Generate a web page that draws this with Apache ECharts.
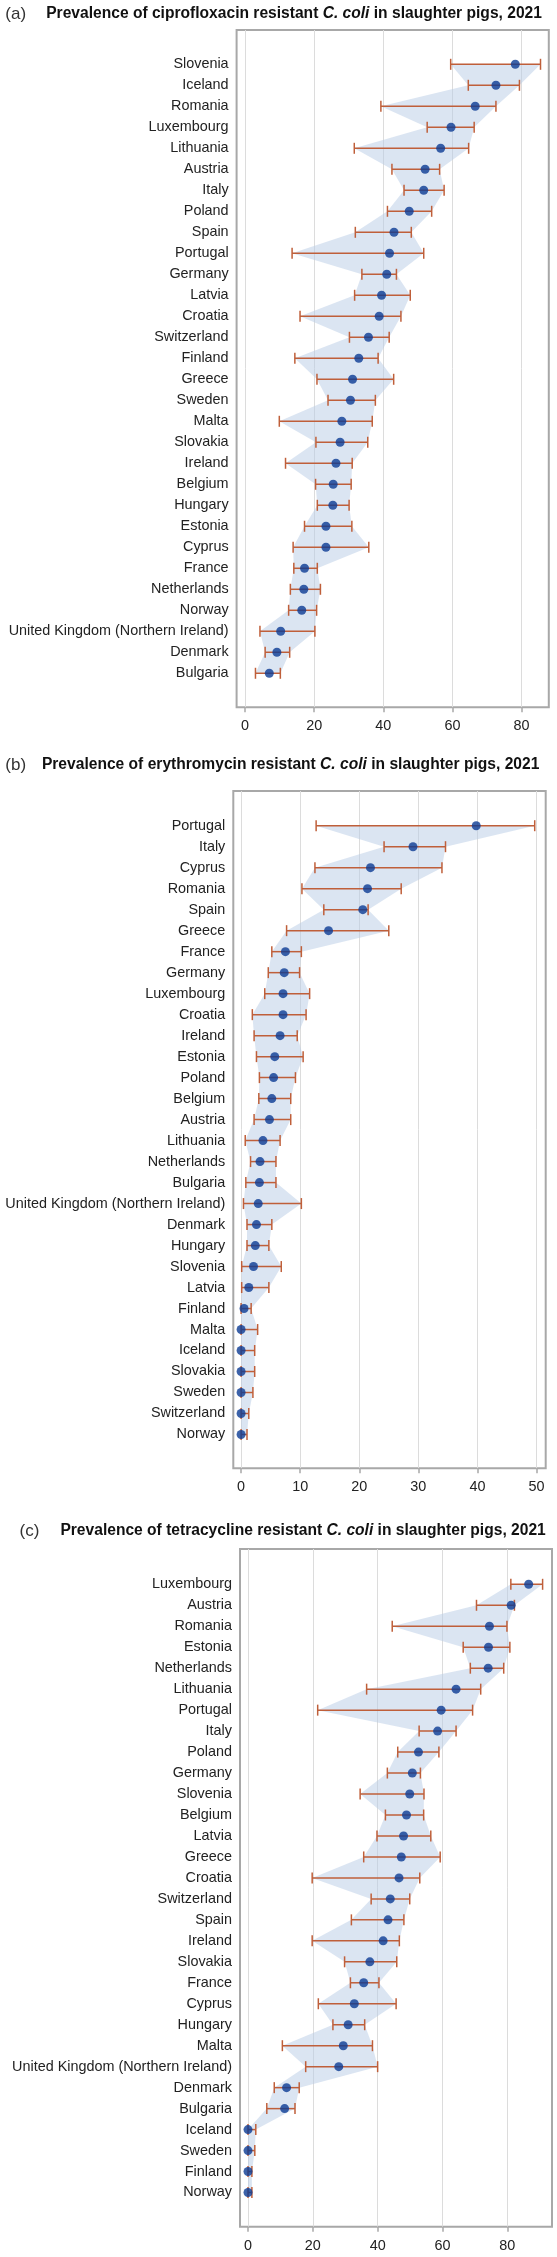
<!DOCTYPE html>
<html><head><meta charset="utf-8">
<script src="https://cdn.jsdelivr.net/npm/echarts@6/dist/echarts.min.js"></script>
<style>html,body{margin:0;padding:0;background:#fff}#c{width:557px;height:2257px}</style>
</head><body><div id="c"></div>
<script>
// ---------- DATA ----------
const countriesA = ['Slovenia','Iceland','Romania','Luxembourg','Lithuania','Austria','Italy','Poland','Spain','Portugal','Germany','Latvia','Croatia','Switzerland','Finland','Greece','Sweden','Malta','Slovakia','Ireland','Belgium','Hungary','Estonia','Cyprus','France','Netherlands','Norway','United Kingdom (Northern Ireland)','Denmark','Bulgaria'];
const valA = [78.2,72.6,66.6,59.6,56.6,52.1,51.7,47.5,43.1,41.8,41.0,39.5,38.8,35.7,32.9,31.1,30.5,28.0,27.5,26.3,25.5,25.4,23.4,23.4,17.2,17.0,16.4,10.3,9.2,7.0];
const loA  = [59.5,64.6,39.3,52.7,31.6,42.5,46.0,41.2,31.9,13.6,33.8,31.7,15.9,30.2,14.4,20.8,24.0,9.9,20.5,11.7,20.4,20.9,17.2,13.9,14.1,13.1,12.6,4.3,5.8,3.0];
const hiA  = [85.5,79.4,72.6,66.3,64.7,56.3,57.6,54.0,48.1,51.7,43.8,47.8,45.1,41.7,38.5,43.0,37.7,36.8,35.5,31.0,30.7,30.1,30.9,35.8,20.9,21.8,20.7,20.2,12.9,10.2];
const ticksA = [0,20,40,60,80];

const countriesB = ['Portugal','Italy','Cyprus','Romania','Spain','Greece','France','Germany','Luxembourg','Croatia','Ireland','Estonia','Poland','Belgium','Austria','Lithuania','Netherlands','Bulgaria','United Kingdom (Northern Ireland)','Denmark','Hungary','Slovenia','Latvia','Finland','Malta','Iceland','Slovakia','Sweden','Switzerland','Norway'];
const valB = [39.8,29.1,21.9,21.4,20.6,14.8,7.5,7.3,7.1,7.1,6.6,5.7,5.5,5.2,4.8,3.7,3.2,3.1,2.9,2.6,2.4,2.1,1.3,0.5,0,0,0,0,0,0];
const loB  = [12.7,24.2,12.5,10.3,14.0,7.7,5.2,4.6,4.0,1.9,2.2,2.6,3.1,3.0,2.2,0.7,1.6,0.8,0.4,1.0,1.0,0.1,0.1,0,0,0,0,0,0,0];
const hiB  = [49.7,34.6,34.0,27.1,21.5,25.0,10.2,9.9,11.6,11.0,9.5,10.5,9.2,8.4,8.4,6.6,5.9,5.9,10.2,5.2,4.7,6.8,4.7,1.7,2.8,2.3,2.3,2.0,1.3,1.0];
const ticksB = [0,10,20,30,40,50];

const countriesC = ['Luxembourg','Austria','Romania','Estonia','Netherlands','Lithuania','Portugal','Italy','Poland','Germany','Slovenia','Belgium','Latvia','Greece','Croatia','Switzerland','Spain','Ireland','Slovakia','France','Cyprus','Hungary','Malta','United Kingdom (Northern Ireland)','Denmark','Bulgaria','Iceland','Sweden','Finland','Norway'];
const valC = [86.6,81.2,74.5,74.2,74.1,64.2,59.6,58.5,52.6,50.7,49.9,48.9,48.0,47.3,46.6,43.9,43.2,41.7,37.6,35.7,32.8,30.9,29.4,28.0,11.9,11.3,0,0,0,0];
const loC  = [81.1,70.5,44.5,66.4,68.6,36.6,21.5,52.8,46.2,43.0,34.6,42.4,39.8,35.7,19.8,38.0,31.9,19.8,29.8,31.6,21.7,26.2,10.6,17.8,8.1,5.8,0,0,0,0];
const hiC  = [90.9,82.2,79.9,80.8,78.9,71.8,69.3,64.2,58.9,53.2,54.3,54.2,56.4,59.3,53.0,49.9,48.1,46.7,45.9,40.4,45.7,36.0,38.4,40.0,15.8,14.5,2.4,2.1,1.2,1.2];
const ticksC = [0,20,40,60,80];

const tags = ['(a)','(b)','(c)'];
const antibiotics = ['ciprofloxacin','erythromycin','tetracycline'];

// ---------- LAYOUT / STYLE ----------
const FONT = '"Liberation Sans", Arial, sans-serif';
const DOT = '#0b3b93', BAR = '#bf5f3a', BAND = 'rgba(184,204,230,0.5)';
const panels = [
  {c:countriesA, v:valA, lo:loA, hi:hiA, ticks:ticksA,
   grid:{left:236.6, top:30, width:312.2, height:677.3}, x:[-2.46,87.9], y:[-1.633,30.62],
   tag:{left:5.3, top:4}, title:{left:46.2, top:3.3}},
  {c:countriesB, v:valB, lo:loB, hi:hiB, ticks:ticksB,
   grid:{left:233.3, top:791, width:312.4, height:677.3}, x:[-1.32,51.56], y:[-1.653,30.61],
   tag:{left:5.3, top:755.5}, title:{left:41.9, top:755}},
  {c:countriesC, v:valC, lo:loC, hi:hiC, ticks:ticksC,
   grid:{left:240, top:1549, width:312, height:677.7}, x:[-2.47,93.8], y:[-1.683,30.63],
   tag:{left:19.5, top:1521}, title:{left:60.4, top:1520.7}}
];

const option = {backgroundColor:'#fff', animation:false, title:[], grid:[], xAxis:[], yAxis:[], series:[]};

panels.forEach((p, k) => {
  option.title.push({text: tags[k], left:p.tag.left, top:p.tag.top, padding:0,
    textStyle:{fontFamily:FONT, fontSize:17, fontWeight:'normal', color:'#333', lineHeight:20}});
  option.title.push({
    text: '{b|Prevalence of ' + antibiotics[k] + ' resistant }{i|C. coli}{b| in slaughter pigs, 2021}',
    left:p.title.left, top:p.title.top, padding:0,
    textStyle:{rich:{
      b:{fontFamily:FONT, fontSize:15.6, fontWeight:'bold', color:'#111', lineHeight:20},
      i:{fontFamily:FONT, fontSize:15.6, fontWeight:'bold', fontStyle:'italic', color:'#111', lineHeight:20}
    }}});
  option.grid.push(Object.assign({show:true, borderColor:'#a8a8a8', borderWidth:2, backgroundColor:'transparent', containLabel:false}, p.grid));
  option.xAxis.push({type:'value', gridIndex:k, min:p.x[0], max:p.x[1], position:'bottom',
    axisLine:{show:false, onZero:false},
    axisTick:{show:true, length:5, lineStyle:{color:'#a8a8a8', width:1.5}, customValues:p.ticks},
    axisLabel:{fontFamily:FONT, fontSize:14.4, color:'#222', margin:12, customValues:p.ticks},
    splitLine:{show:true, lineStyle:{color:'#dcdcdc', width:1}}});
  const idx = p.c.map((_, i) => i);
  option.yAxis.push({type:'value', gridIndex:k, inverse:true, min:p.y[0], max:p.y[1],
    axisLine:{show:false, onZero:false}, axisTick:{show:false}, splitLine:{show:false},
    axisLabel:{fontFamily:FONT, fontSize:14.4, color:'#222', margin:8, customValues:idx,
      formatter:(val) => p.c[Math.round(val)] || ''}});
  // band polygon (lower CI down, upper CI back up)
  option.series.push({type:'custom', xAxisIndex:k, yAxisIndex:k, z:1, silent:true,
    data: p.lo.map((l, i) => [l, p.hi[i], i]),
    encode:{x:[0,1], y:2},
    renderItem:(params, api) => {
      if (params.dataIndex !== 0) return null;
      const pts = [];
      for (let i = 0; i < p.lo.length; i++) pts.push(api.coord([p.lo[i], i]));
      for (let i = p.hi.length - 1; i >= 0; i--) pts.push(api.coord([p.hi[i], i]));
      return {type:'polygon', shape:{points:pts}, style:{fill:BAND, stroke:null}};
    }});
  // error bars
  option.series.push({type:'custom', xAxisIndex:k, yAxisIndex:k, z:2, silent:true,
    data: p.lo.map((l, i) => [l, p.hi[i], i]),
    encode:{x:[0,1], y:2},
    renderItem:(params, api) => {
      const a = api.coord([api.value(0), api.value(2)]);
      const b = api.coord([api.value(1), api.value(2)]);
      const h = 5.5, st = {stroke:BAR, lineWidth:1.5};
      return {type:'group', children:[
        {type:'line', shape:{x1:a[0], y1:a[1], x2:b[0], y2:b[1]}, style:st},
        {type:'line', shape:{x1:a[0], y1:a[1]-h, x2:a[0], y2:a[1]+h}, style:st},
        {type:'line', shape:{x1:b[0], y1:b[1]-h, x2:b[0], y2:b[1]+h}, style:st}
      ]};
    }});
  // point estimates
  option.series.push({type:'scatter', xAxisIndex:k, yAxisIndex:k, z:3, silent:true,
    symbol:'circle', symbolSize:9, itemStyle:{color:DOT},
    data: p.v.map((x, i) => [x, i])});
});

const chart = echarts.init(document.getElementById('c'), null, {renderer:'canvas'});
chart.setOption(option);
</script></body></html>
